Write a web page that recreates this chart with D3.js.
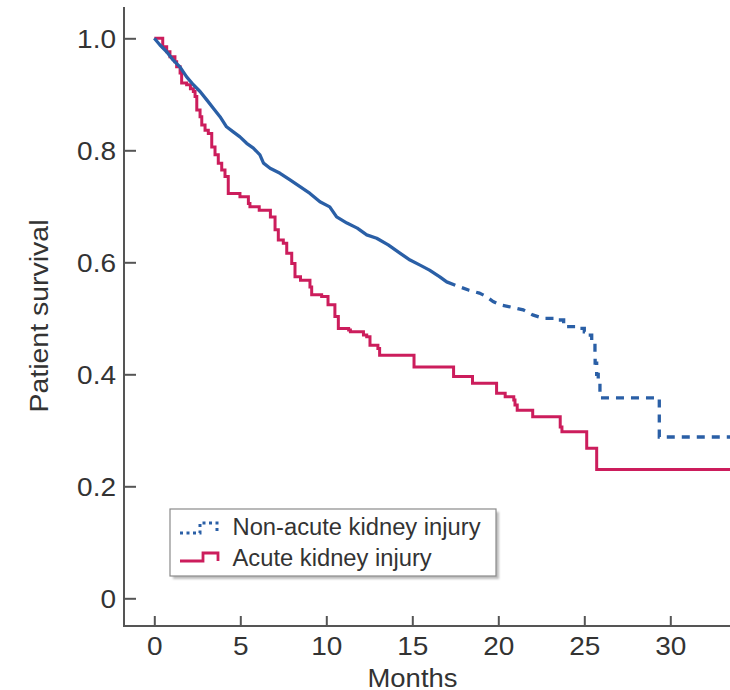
<!DOCTYPE html>
<html><head><meta charset="utf-8">
<script src="https://cdn.jsdelivr.net/npm/d3@7"></script>
<style>html,body{margin:0;padding:0;background:#fff;} svg{display:block;}</style>
</head><body>
<svg id="chart" width="730" height="690"></svg>
<script>
// ---------- data ----------
const xTickValues = [0, 5, 10, 15, 20, 25, 30];
const xTickLabels = ["0", "5", "10", "15", "20", "25", "30"];
const yTickValues = [1.0, 0.8, 0.6, 0.4, 0.2, 0];
const yTickLabels = ["1.0", "0.8", "0.6", "0.4", "0.2", "0"];
const seriesNames = ["Non-acute kidney injury", "Acute kidney injury"];
const xTitle = "Months";
const yTitle = "Patient survival";

// Non-acute kidney injury (time in months, survival)
const nonAkiTime = [0, 0.33, 0.72, 1.1, 1.49, 1.88, 2.27, 2.66, 3.05, 3.43, 3.82, 4.2, 4.59, 4.98, 5.37, 5.76,
  6.14, 6.35, 6.73, 7.31, 7.89, 8.47, 9.05, 9.63, 10.2, 10.6, 11.2, 11.8, 12.35, 12.93, 13.6, 14.3, 14.87,
  15.45, 16.0, 16.6, 17.0, 17.5, 18.3, 18.9, 19.3, 19.7, 20.1, 20.6, 21.45, 22.0, 22.6, 23.5, 23.8, 24.75,
  25.0, 25.2, 25.43, 25.62, 25.63, 25.72, 25.81, 25.91, 29.36];
const nonAkiSurv = [1.0, 0.988, 0.976, 0.961, 0.949, 0.931, 0.917, 0.905, 0.89, 0.875, 0.86, 0.842, 0.833, 0.824, 0.8125, 0.804,
  0.792, 0.777, 0.768, 0.759, 0.747, 0.735, 0.723, 0.708, 0.699, 0.681, 0.67, 0.661, 0.649, 0.643, 0.631, 0.616, 0.604,
  0.595, 0.586, 0.574, 0.565, 0.559, 0.55, 0.545, 0.539, 0.53, 0.524, 0.521, 0.515, 0.506, 0.5, 0.497, 0.485, 0.482,
  0.476, 0.47, 0.455, 0.44, 0.42, 0.40, 0.384, 0.358, 0.288];

// Acute kidney injury
const akiTime = [0, 0.49, 0.72, 0.91, 1.2, 1.3, 1.5, 1.59, 1.88, 2.1, 2.27, 2.37, 2.47, 2.66, 2.76, 2.95, 3.14, 3.34,
  3.53, 3.72, 3.92, 4.11, 4.3, 4.98, 5.47, 5.56, 6.1, 6.75, 7.02, 7.21, 7.5, 7.7, 7.99, 8.18, 8.5, 9.05, 9.15,
  9.73, 10.1, 10.5, 10.7, 11.3, 11.4, 12.16, 12.35, 12.54, 13.0, 13.1, 15.1, 17.4, 18.5, 19.9, 20.4, 20.9,
  20.97, 21.1, 22.0, 23.6, 23.7, 25.14, 25.72];
const akiSurv = [1.0, 0.985, 0.976, 0.967, 0.958, 0.949, 0.938, 0.92, 0.917, 0.91, 0.905, 0.896, 0.872, 0.86, 0.845, 0.836, 0.83, 0.806,
  0.792, 0.777, 0.765, 0.753, 0.723, 0.717, 0.705, 0.699, 0.693, 0.681, 0.658, 0.64, 0.634, 0.616, 0.598, 0.574, 0.568, 0.556, 0.542,
  0.539, 0.524, 0.503, 0.482, 0.479, 0.476, 0.47, 0.467, 0.452, 0.446, 0.434, 0.413, 0.396, 0.384, 0.366, 0.36, 0.354,
  0.345, 0.336, 0.324, 0.306, 0.2976, 0.268, 0.23];

const followUpEnd = 33.5;   // curves run to the right edge
const dashStart = 17.5;     // non-AKI curve drawn dashed after this time
const denseUntil = 22.6;    // non-AKI events so dense before this that the steps merge into a jagged line

// ---------- layout ----------
const svg = d3.select("#chart");
const FONT = "'Liberation Sans', Arial, Helvetica, sans-serif";
const TEXT = "#333";
const AXIS = "#555";
const BLUE = "#2a5fa6";
const PINK = "#cc1d5c";

const x = d3.scaleLinear().domain([0, 30]).range([154.3, 670.3]);
const y = d3.scaleLinear().domain([0, 1]).range([598.3, 38.3]);
const axisY0 = 626, axisX0 = 124;

function stretch(sel, f) {
  sel.each(function () {
    const L = this.getComputedTextLength();
    this.setAttribute("textLength", L * f);
    this.setAttribute("lengthAdjust", "spacingAndGlyphs");
  });
}

// axes
const gx = svg.append("g").attr("transform", `translate(0,${axisY0})`)
  .call(d3.axisBottom(x).tickValues(xTickValues).tickFormat((d, i) => xTickLabels[i]).tickSize(-10).tickSizeOuter(0));
gx.select(".domain").remove();
gx.selectAll(".tick line").attr("stroke", AXIS).attr("stroke-width", 2);
gx.selectAll(".tick text").attr("y", 29).attr("dy", 0).attr("fill", TEXT)
  .attr("font-family", FONT).attr("font-size", 25);
stretch(gx.selectAll(".tick text"), 1.12);

const gy = svg.append("g").attr("transform", `translate(${axisX0},0)`)
  .call(d3.axisLeft(y).tickValues(yTickValues).tickFormat((d, i) => yTickLabels[i]).tickSize(-12).tickSizeOuter(0));
gy.select(".domain").remove();
gy.selectAll(".tick line").attr("stroke", AXIS).attr("stroke-width", 2);
gy.selectAll(".tick text").attr("x", -8).attr("dy", "0.36em").attr("fill", TEXT)
  .attr("font-family", FONT).attr("font-size", 25);
stretch(gy.selectAll(".tick text"), 1.12);

svg.append("line").attr("x1", axisX0).attr("x2", axisX0).attr("y1", 7).attr("y2", axisY0 + 1)
  .attr("stroke", AXIS).attr("stroke-width", 2);
svg.append("line").attr("x1", axisX0 - 1).attr("x2", 730).attr("y1", axisY0).attr("y2", axisY0)
  .attr("stroke", AXIS).attr("stroke-width", 2);

// titles
const tx = svg.append("text").attr("x", 412.5).attr("y", 686.5).attr("text-anchor", "middle")
  .attr("font-family", FONT).attr("font-size", 25.5).attr("fill", TEXT).text(xTitle);
tx.attr("textLength", 90).attr("lengthAdjust", "spacingAndGlyphs");
const ty = svg.append("text").attr("transform", "translate(48,316) rotate(-90)").attr("text-anchor", "middle")
  .attr("font-family", FONT).attr("font-size", 26).attr("fill", TEXT).text(yTitle);
ty.attr("textLength", 193).attr("lengthAdjust", "spacingAndGlyphs");

// curves
const stepLine = d3.line().x(d => x(d[0])).y(d => y(d[1])).curve(d3.curveStepAfter);
const jagLine = d3.line().x(d => x(d[0])).y(d => y(d[1])).curve(d3.curveLinear);
const nonAki = nonAkiTime.map((t, i) => [t, nonAkiSurv[i]]);
nonAki.push([followUpEnd, nonAkiSurv[nonAkiSurv.length - 1]]);
const aki = akiTime.map((t, i) => [t, akiSurv[i]]);
aki.push([followUpEnd, akiSurv[akiSurv.length - 1]]);

const nonAkiSolid = nonAki.filter(d => d[0] <= dashStart);
const nonAkiDashedDense = nonAki.filter(d => d[0] >= dashStart && d[0] <= denseUntil);
const nonAkiDashedSteps = nonAki.filter(d => d[0] >= denseUntil);
// join the two dashed pieces into one path so the dash pattern runs on
const dashedD = jagLine(nonAkiDashedDense) + stepLine(nonAkiDashedSteps).replace(/^M/, "L");

const plot = svg.append("g");
plot.append("path").attr("d", stepLine(aki)).attr("fill", "none").attr("stroke", PINK)
  .attr("stroke-width", 3);
plot.append("path").attr("d", jagLine(nonAkiSolid)).attr("fill", "none").attr("stroke", BLUE)
  .attr("stroke-width", 3.3).attr("stroke-linejoin", "round");
plot.append("path").attr("d", dashedD).attr("fill", "none").attr("stroke", BLUE)
  .attr("stroke-width", 3.3).attr("stroke-dasharray", "8,7").attr("stroke-dashoffset", 8);

// legend
const lg = svg.append("g");
const defs = svg.append("defs");
defs.append("filter").attr("id", "blur").append("feGaussianBlur").attr("stdDeviation", 1.2);
lg.append("rect").attr("x", 173).attr("y", 512).attr("width", 326).attr("height", 67)
  .attr("fill", "#bdbdbd").attr("filter", "url(#blur)");
lg.append("rect").attr("x", 170).attr("y", 509).attr("width", 326).attr("height", 67)
  .attr("fill", "#fff").attr("stroke", "#8a8a8a").attr("stroke-width", 1.2);
const symLine = d3.line();
lg.append("path").attr("d", symLine([[180, 533], [200, 533], [200, 523], [217, 523], [217, 533]]))
  .attr("fill", "none").attr("stroke", BLUE).attr("stroke-width", 3).attr("stroke-dasharray", "3,3.5");
lg.append("path").attr("d", symLine([[180, 561], [203, 561], [203, 553], [218, 553], [218, 561]]))
  .attr("fill", "none").attr("stroke", PINK).attr("stroke-width", 2.8);
lg.selectAll("text.lab").data(seriesNames).enter().append("text").attr("class", "lab")
  .attr("x", 232.5).attr("y", (d, i) => i === 0 ? 535 : 566)
  .attr("font-family", FONT).attr("font-size", 23.5).attr("fill", TEXT).text(d => d);
stretch(lg.selectAll("text.lab"), 1.01);
</script>
</body></html>
